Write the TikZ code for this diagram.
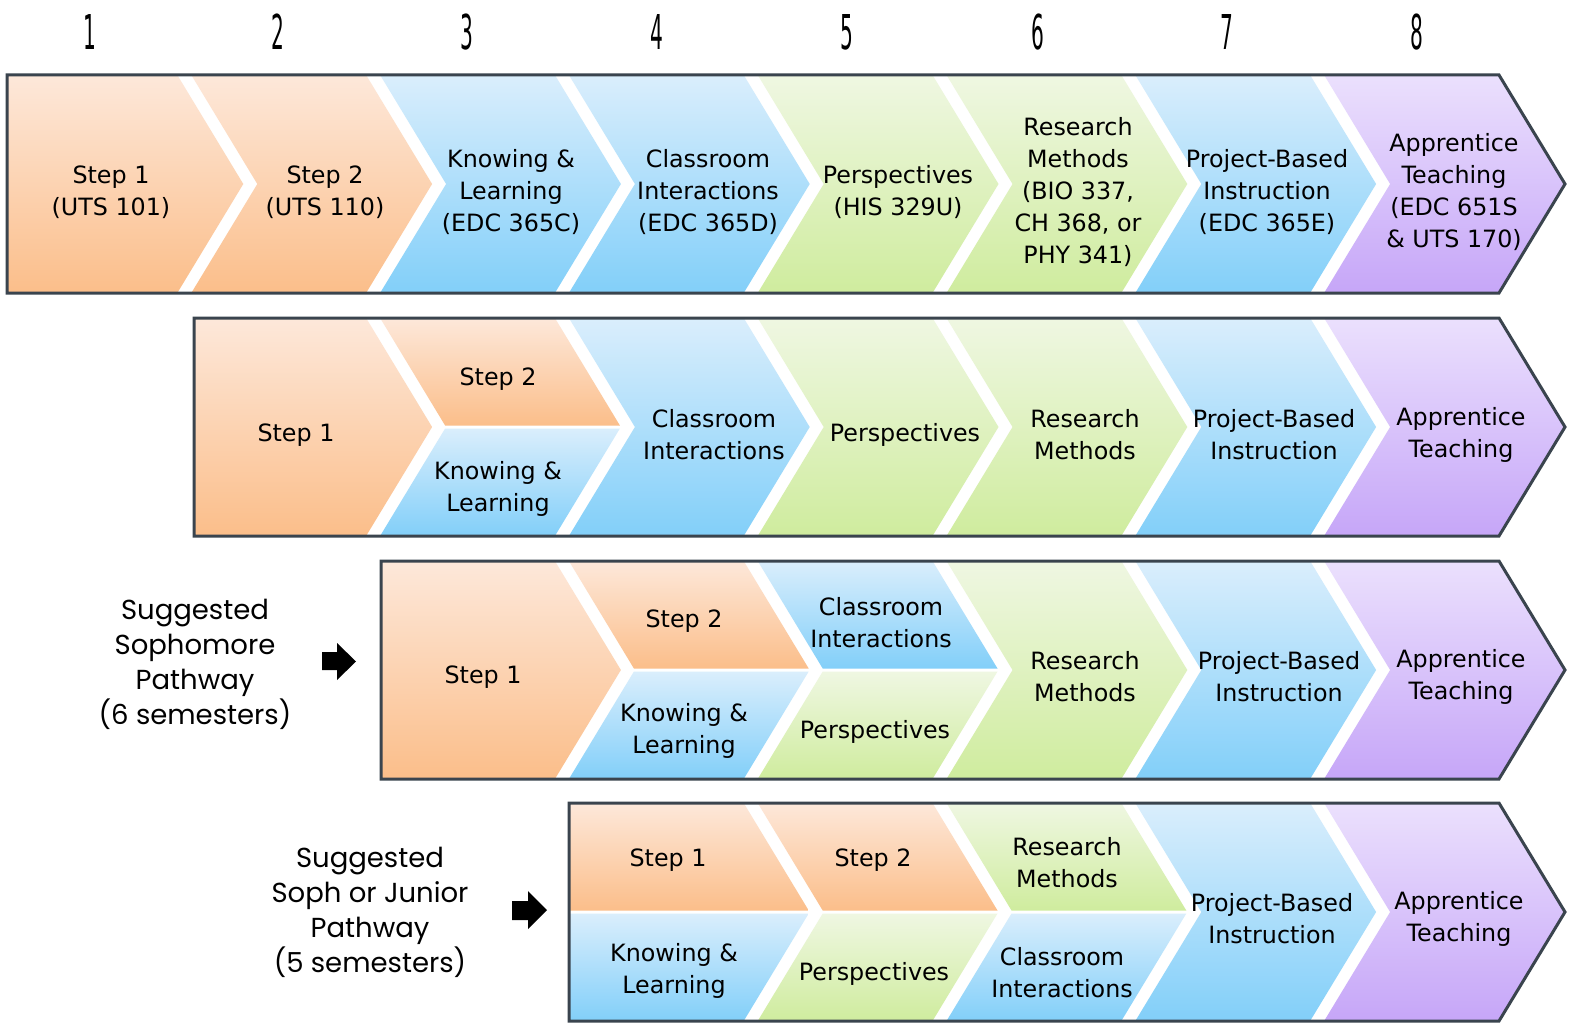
\documentclass[tikz,border=0pt]{standalone}
\usepackage{fontspec}
\setmainfont{DejaVu Sans}
\newfontfamily\labfont{Poppins}
\definecolor{orT}{RGB}{253,232,218}
\definecolor{orB}{RGB}{251,190,138}
\definecolor{blT}{RGB}{218,238,252}
\definecolor{blB}{RGB}{130,207,249}
\definecolor{grT}{RGB}{239,247,226}
\definecolor{grB}{RGB}{207,236,158}
\definecolor{puT}{RGB}{235,224,253}
\definecolor{puB}{RGB}{198,166,248}
\definecolor{edge}{RGB}{58,68,78}
\newcommand\ChevFull[5]{\shade[top color=#5T,bottom color=#5B] (#2,#1) -- (#3,#1) -- ({#3+66},{#1+109}) -- (#3,{#1+218}) -- (#2,{#1+218}) -- ({#2+#4},{#1+109}) -- cycle;}
\newcommand\ChevTop[5]{\shade[top color=#5T,bottom color=#5B] (#2,#1) -- (#3,#1) -- ({#3+65},{#1+107.5}) -- ({#2+#4*65/66},{#1+107.5}) -- cycle;}
\newcommand\ChevBot[5]{\shade[top color=#5T,bottom color=#5B] ({#2+#4*65/66},{#1+110.5}) -- ({#3+65},{#1+110.5}) -- (#3,{#1+218}) -- (#2,{#1+218}) -- cycle;}
\newcommand\RowLine[2]{\draw[rowline] (#2,#1) -- (1499,#1) -- (1565,{#1+109}) -- (1499,{#1+218}) -- (#2,{#1+218}) -- cycle;}
\tikzset{
  lbl/.style={font=\fontsize{23.8}{32}\selectfont, align=center, text=black, inner sep=0pt},
  side/.style={font=\labfont\fontsize{27.5}{35}\selectfont, align=center, text=black, inner sep=0pt},
  num/.style={font=\fontsize{48}{48}\selectfont, xscale=0.42, inner sep=0pt},
  rowline/.style={draw=edge, line width=3pt, line join=miter},
}
\begin{document}
\begin{tikzpicture}[x=1pt,y=-1pt]
\useasboundingbox[fill=white] (0,0) rectangle (1573,1024);
% numbers
\node[num] (n1) at (90,32) {1};
\node[num] (n2) at (278,32) {2};
\node[num] (n3) at (467,32) {3};
\node[num] (n4) at (657,32) {4};
\node[num] (n5) at (847,32) {5};
\node[num] (n6) at (1038,32) {6};
\node[num] (n7) at (1227,32) {7};
\node[num] (n8) at (1417,32) {8};
% row 1
\ChevFull{75}{7}{177.3}{0}{or}
\ChevFull{75}{191.3}{366.1}{66}{or}
\ChevFull{75}{380.1}{554.9}{66}{bl}
\ChevFull{75}{568.9}{743.7}{66}{bl}
\ChevFull{75}{757.7}{932.5}{66}{gr}
\ChevFull{75}{946.5}{1121.3}{66}{gr}
\ChevFull{75}{1135.3}{1310.1}{66}{bl}
\ChevFull{75}{1324.1}{1499}{66}{pu}
\RowLine{75}{7}
% row 2
\ChevFull{318}{194}{366.1}{0}{or}
\ChevTop{318}{380.1}{554.9}{66}{or}
\ChevBot{318}{380.1}{554.9}{66}{bl}
\ChevFull{318}{568.9}{743.7}{66}{bl}
\ChevFull{318}{757.7}{932.5}{66}{gr}
\ChevFull{318}{946.5}{1121.3}{66}{gr}
\ChevFull{318}{1135.3}{1310.1}{66}{bl}
\ChevFull{318}{1324.1}{1499}{66}{pu}
\RowLine{318}{194}
% row 3
\ChevFull{561}{381}{554.9}{0}{or}
\ChevTop{561}{568.9}{743.7}{66}{or}
\ChevBot{561}{568.9}{743.7}{66}{bl}
\ChevTop{561}{757.7}{932.5}{66}{bl}
\ChevBot{561}{757.7}{932.5}{66}{gr}
\ChevFull{561}{946.5}{1121.3}{66}{gr}
\ChevFull{561}{1135.3}{1310.1}{66}{bl}
\ChevFull{561}{1324.1}{1499}{66}{pu}
\RowLine{561}{381}
% row 4
\ChevTop{803}{569}{743.7}{0}{or}
\ChevBot{803}{569}{743.7}{0}{bl}
\ChevTop{803}{757.7}{932.5}{66}{or}
\ChevBot{803}{757.7}{932.5}{66}{gr}
\ChevTop{803}{946.5}{1121.3}{66}{gr}
\ChevBot{803}{946.5}{1121.3}{66}{bl}
\ChevFull{803}{1135.3}{1310.1}{66}{bl}
\ChevFull{803}{1324.1}{1499}{66}{pu}
\RowLine{803}{569}
% row 1 texts
\node[lbl] (a1) at (111,192) {Step 1\\(UTS 101)};
\node[lbl] (a2) at (325,192) {Step 2\\(UTS 110)};
\node[lbl] (a3) at (511,192) {Knowing \&\\Learning\\(EDC 365C)};
\node[lbl] (a4) at (708,192) {Classroom\\Interactions\\(EDC 365D)};
\node[lbl] (a5) at (898,192) {Perspectives\\(HIS 329U)};
\node[lbl] (a6) at (1078,192) {Research\\Methods\\(BIO 337,\\CH 368, or\\PHY 341)};
\node[lbl] (a7) at (1267,192) {Project-Based\\Instruction\\(EDC 365E)};
\node[lbl] (a8) at (1454,192) {Apprentice\\Teaching\\(EDC 651S\\\& UTS 170)};
% row 2 texts
\node[lbl] (b1) at (296,435) {Step 1};
\node[lbl] (b2) at (498,379) {Step 2};
\node[lbl] (b3) at (498,489) {Knowing \&\\Learning};
\node[lbl] (b4) at (714,435) {Classroom\\Interactions};
\node[lbl] (b5) at (905,435) {Perspectives};
\node[lbl] (b6) at (1085,435) {Research\\Methods};
\node[lbl] (b7) at (1274,435) {Project-Based\\Instruction};
\node[lbl] (b8) at (1461,435) {Apprentice\\Teaching};
% row 3 texts
\node[lbl] (c1) at (483,677) {Step 1};
\node[lbl] (c2) at (684,621) {Step 2};
\node[lbl] (c3) at (684,731) {Knowing \&\\Learning};
\node[lbl] (c4) at (881,623) {Classroom\\Interactions};
\node[lbl] (c5) at (875,732) {Perspectives};
\node[lbl] (c6) at (1085,677) {Research\\Methods};
\node[lbl] (c7) at (1279,677) {Project-Based\\Instruction};
\node[lbl] (c8) at (1461,677) {Apprentice\\Teaching};
% row 4 texts
\node[lbl] (d1) at (668,860) {Step 1};
\node[lbl] (d2) at (674,971) {Knowing \&\\Learning};
\node[lbl] (d3) at (873,860) {Step 2};
\node[lbl] (d4) at (874,974) {Perspectives};
\node[lbl] (d5) at (1067,863) {Research\\Methods};
\node[lbl] (d6) at (1062,973) {Classroom\\Interactions};
\node[lbl] (d7) at (1272,919) {Project-Based\\Instruction};
\node[lbl] (d8) at (1459,919) {Apprentice\\Teaching};
% side labels
\node[side] (s1) at (195,664) {Suggested\\Sophomore\\Pathway\\(6 semesters)};
\node[side] (s2) at (370,912) {Suggested\\Soph or Junior\\Pathway\\(5 semesters)};
% arrows
\fill[black] (322,652) -- (337,652) -- (337,643) -- (356,661.5) -- (337,680) -- (337,670) -- (322,670) -- cycle;
\fill[black] (512,901) -- (528,901) -- (528,891) -- (547,910) -- (528,929) -- (528,920) -- (512,920) -- cycle;
\end{tikzpicture}
\end{document}
